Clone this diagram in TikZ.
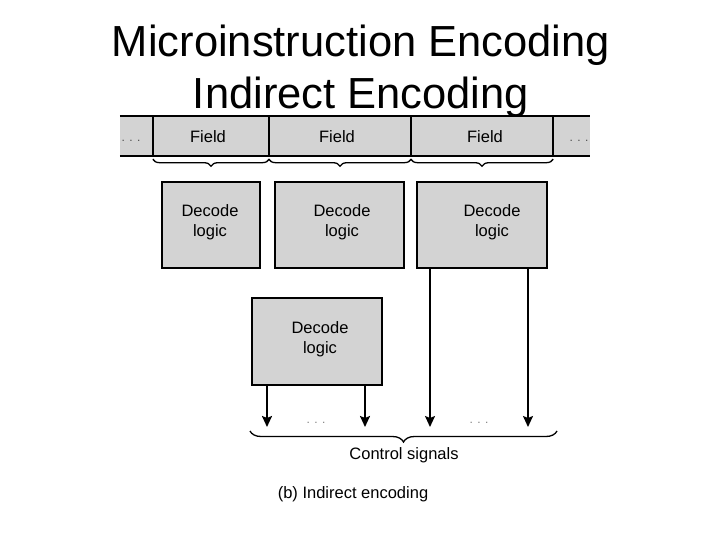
\documentclass[tikz,border=0pt]{standalone}
\usepackage{fontspec}
\setmainfont{Liberation Sans}
\usetikzlibrary{arrows.meta,decorations.pathreplacing}
\definecolor{boxgray}{HTML}{D3D3D3}
\tikzset{
  cell/.style={fill=boxgray, inner sep=0pt},
  dec/.style={draw=black, line width=2.4pt, fill=boxgray, inner sep=0pt},
  lbl/.style={align=center, font=\fontsize{16.5}{20}\selectfont, inner sep=0pt},
  barline/.style={line width=2.2pt},
  arr/.style={line width=2pt, -{Stealth[length=11pt,width=10pt,inset=2pt]}},
  brc/.style={decorate, decoration={brace, mirror, amplitude=#1}, line width=1.3pt},
  dots/.style={text=gray, font=\fontsize{12}{14}\selectfont, inner sep=0pt}
}
\begin{document}
\begin{tikzpicture}[x=1pt,y=-1pt]
\useasboundingbox (0,0) rectangle (720,540);
% title
\node[font=\fontsize{43.5}{52}\selectfont, align=center] (title) at (361,71) {Microinstruction Encoding\\Indirect Encoding};
% field bar
\node[cell, minimum width=33, minimum height=40] (c0) at (136.5,136) {};
\node[cell, minimum width=116, minimum height=40] (f1) at (211,136) {};
\node[cell, minimum width=142, minimum height=40] (f2) at (340,136) {};
\node[cell, minimum width=142, minimum height=40] (f3) at (482,136) {};
\node[cell, minimum width=37, minimum height=40] (c4) at (571.5,136) {};
\node[lbl] (l1) at (208,137) {Field};
\node[lbl] (l2) at (337,137) {Field};
\node[lbl] (l3) at (485,137) {Field};
\node[dots, text=black!70] (dl) at (131,141) {. . .};
\node[dots, text=black!70] (dr) at (579,141) {. . .};
\draw[barline] (c0.north west) -- (c4.north east);
\draw[barline] (c0.south west) -- (c4.south east);
\draw[barline] (f1.north west) -- (f1.south west);
\draw[barline] (f2.north west) -- (f2.south west);
\draw[barline] (f3.north west) -- (f3.south west);
\draw[barline] (f3.north east) -- (f3.south east);
% braces
\draw[brc=7pt] ([yshift=-3pt]f1.south west) -- ([yshift=-3pt]f1.south east);
\draw[brc=7pt] ([yshift=-3pt]f2.south west) -- ([yshift=-3pt]f2.south east);
\draw[brc=7pt] ([yshift=-3pt]f3.south west) -- ([yshift=-3pt]f3.south east);
% decode boxes
\node[dec, minimum width=98, minimum height=86] (d1) at (211,225) {};
\node[dec, minimum width=129, minimum height=86] (d2) at (339.5,225) {};
\node[dec, minimum width=130, minimum height=86] (d3) at (482,225) {};
\node[dec, minimum width=130, minimum height=87] (d4) at (317,341.5) {};
\node[lbl] (t1) at (210,222) {Decode\\logic};
\node[lbl] (t2) at (342,222) {Decode\\logic};
\node[lbl] (t3) at (492,222) {Decode\\logic};
\node[lbl] (t4) at (320,339) {Decode\\logic};
% arrows
\coordinate (e1) at (267,427);
\coordinate (e2) at (365,427);
\coordinate (e3) at (430,427);
\coordinate (e4) at (528,427);
\draw[arr] (e1 |- d4.south) -- (e1);
\draw[arr] (e2 |- d4.south) -- (e2);
\draw[arr, line width=1.6pt] (e3 |- d3.south) -- (e3);
\draw[arr, line width=1.6pt] (e4 |- d3.south) -- (e4);
\node[dots] (m1) at (316,423) {. . .};
\node[dots] (m2) at (479,423) {. . .};
% bottom brace
\coordinate (b1) at (250,431);
\coordinate (b2) at (557,431);
\draw[brc=11pt] (b1) -- (b2);
\node[lbl] (cs) at (404,455) {Control signals};
\node[lbl] (cap) at (353,494) {(b) Indirect encoding};
\end{tikzpicture}
\end{document}
